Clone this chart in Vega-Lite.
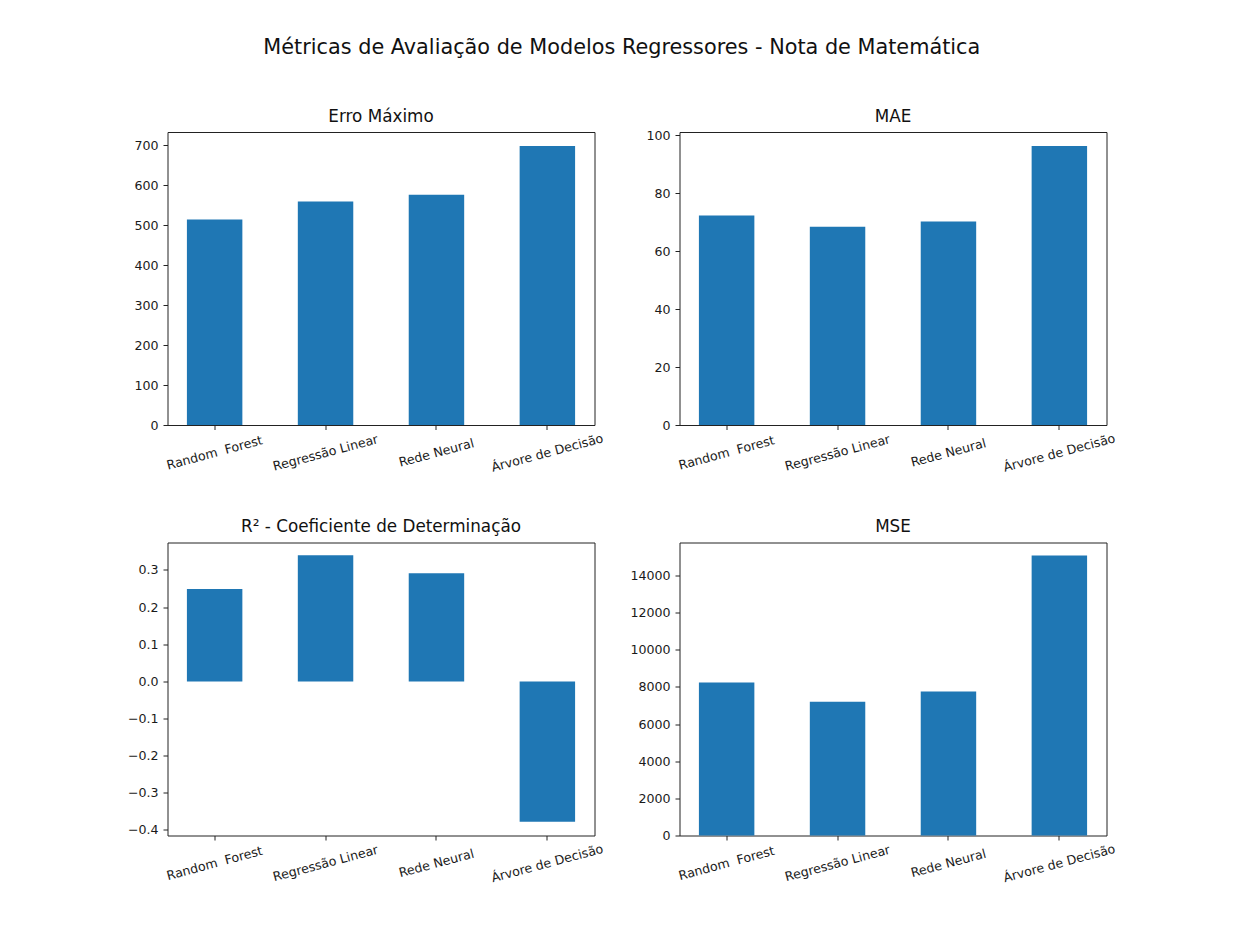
{
  "$schema": "https://vega.github.io/schema/vega-lite/v6.json",
  "background": "white",
  "padding": {"left": 126.5, "top": 37, "right": 5, "bottom": 5},
  "title": {
    "text": "Métricas de Avaliação de Modelos Regressores - Nota de Matemática",
    "font": "DejaVu Sans",
    "fontSize": 20.8,
    "fontWeight": "normal",
    "color": "#111",
    "anchor": "middle",
    "baseline": "alphabetic",
    "frame": "bounds",
    "offset": 33
  },
  "bounds": "flush",
  "columns": 2,
  "spacing": {"row": 117.5, "column": 85},
  "datasets": {
    "metricas": [
      {"metrica": "erro_max", "modelo": "Random\u00a0 Forest", "valor": 514},
      {"metrica": "erro_max", "modelo": "Regressão Linear", "valor": 559},
      {"metrica": "erro_max", "modelo": "Rede Neural", "valor": 576},
      {"metrica": "erro_max", "modelo": "Árvore de Decisão", "valor": 698},
      {"metrica": "mae", "modelo": "Random\u00a0 Forest", "valor": 72.3},
      {"metrica": "mae", "modelo": "Regressão Linear", "valor": 68.4},
      {"metrica": "mae", "modelo": "Rede Neural", "valor": 70.2},
      {"metrica": "mae", "modelo": "Árvore de Decisão", "valor": 96.3},
      {"metrica": "r2", "modelo": "Random\u00a0 Forest", "valor": 0.249},
      {"metrica": "r2", "modelo": "Regressão Linear", "valor": 0.34},
      {"metrica": "r2", "modelo": "Rede Neural", "valor": 0.291},
      {"metrica": "r2", "modelo": "Árvore de Decisão", "valor": -0.378},
      {"metrica": "mse", "modelo": "Random\u00a0 Forest", "valor": 8244},
      {"metrica": "mse", "modelo": "Regressão Linear", "valor": 7198},
      {"metrica": "mse", "modelo": "Rede Neural", "valor": 7758},
      {"metrica": "mse", "modelo": "Árvore de Decisão", "valor": 15080}
    ]
  },
  "concat": [
    {
      "title": "Erro Máximo",
      "width": 427,
      "height": 293,
      "data": {"name": "metricas"},
      "transform": [{"filter": "datum.metrica === 'erro_max'"}],
      "mark": {"type": "bar", "color": "#1f77b4"},
      "encoding": {
        "x": {
          "field": "modelo",
          "type": "nominal",
          "sort": ["Random\u00a0 Forest", "Regressão Linear", "Rede Neural", "Árvore de Decisão"],
          "scale": {"paddingInner": 0.5, "paddingOuter": 0.175},
          "axis": {"title": null}
        },
        "y": {
          "field": "valor",
          "type": "quantitative",
          "scale": {"domain": [0, 733], "nice": false},
          "axis": {"title": null, "values": [0, 100, 200, 300, 400, 500, 600, 700], "format": "d"}
        }
      }
    },
    {
      "title": {"text": "MAE", "offset": 3.4},
      "width": 427,
      "height": 293,
      "data": {"name": "metricas"},
      "transform": [{"filter": "datum.metrica === 'mae'"}],
      "mark": {"type": "bar", "color": "#1f77b4"},
      "encoding": {
        "x": {
          "field": "modelo",
          "type": "nominal",
          "sort": ["Random\u00a0 Forest", "Regressão Linear", "Rede Neural", "Árvore de Decisão"],
          "scale": {"paddingInner": 0.5, "paddingOuter": 0.175},
          "axis": {"title": null}
        },
        "y": {
          "field": "valor",
          "type": "quantitative",
          "scale": {"domain": [0, 101.1], "nice": false},
          "axis": {"title": null, "values": [0, 20, 40, 60, 80, 100], "format": "d"}
        }
      }
    },
    {
      "title": "R² - Coeficiente de Determinação",
      "width": 427,
      "height": 293,
      "data": {"name": "metricas"},
      "transform": [{"filter": "datum.metrica === 'r2'"}],
      "mark": {"type": "bar", "color": "#1f77b4"},
      "encoding": {
        "x": {
          "field": "modelo",
          "type": "nominal",
          "sort": ["Random\u00a0 Forest", "Regressão Linear", "Rede Neural", "Árvore de Decisão"],
          "scale": {"paddingInner": 0.5, "paddingOuter": 0.175},
          "axis": {"title": null}
        },
        "y": {
          "field": "valor",
          "type": "quantitative",
          "scale": {"domain": [-0.415, 0.374], "nice": false, "zero": false},
          "axis": {"title": null, "values": [-0.4, -0.3, -0.2, -0.1, 0, 0.1, 0.2, 0.3], "format": ".1f"}
        }
      }
    },
    {
      "title": "MSE",
      "width": 427,
      "height": 293,
      "data": {"name": "metricas"},
      "transform": [{"filter": "datum.metrica === 'mse'"}],
      "mark": {"type": "bar", "color": "#1f77b4"},
      "encoding": {
        "x": {
          "field": "modelo",
          "type": "nominal",
          "sort": ["Random\u00a0 Forest", "Regressão Linear", "Rede Neural", "Árvore de Decisão"],
          "scale": {"paddingInner": 0.5, "paddingOuter": 0.175},
          "axis": {"title": null}
        },
        "y": {
          "field": "valor",
          "type": "quantitative",
          "scale": {"domain": [0, 15780], "nice": false},
          "axis": {"title": null, "values": [0, 2000, 4000, 6000, 8000, 10000, 12000, 14000], "format": "d"}
        }
      }
    }
  ],
  "config": {
    "font": "DejaVu Sans",
    "view": {"stroke": "#222", "strokeWidth": 1},
    "title": {
      "font": "DejaVu Sans",
      "fontSize": 16.8,
      "fontWeight": "normal",
      "color": "#111",
      "baseline": "alphabetic",
      "frame": "group",
      "offset": 6.5
    },
    "axis": {
      "grid": false,
      "domain": false,
      "labelFont": "DejaVu Sans",
      "labelFontSize": 12.6,
      "labelColor": "#1a1a1a",
      "tickColor": "#222",
      "tickSize": 4.5,
      "tickWidth": 1
    },
    "axisY": {"labelPadding": 5},
    "axisX": {
      "labelAngle": -15,
      "labelAlign": "center",
      "labelBaseline": "middle",
      "labelPadding": 23,
      "labelOverlap": false,
      "labelLimit": 0
    }
  }
}
